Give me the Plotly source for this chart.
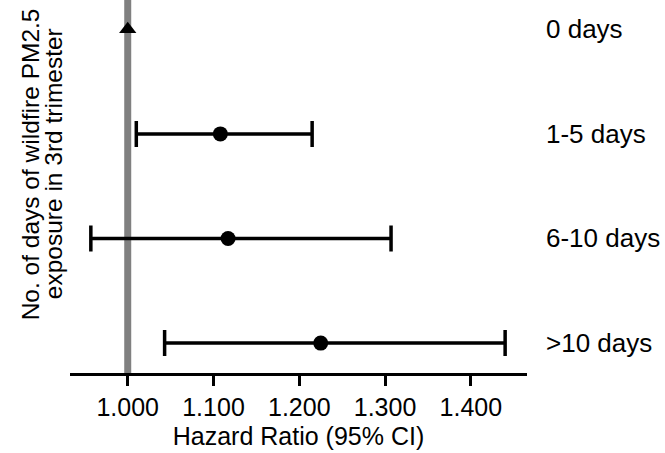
import plotly.graph_objects as go

categories = ["0 days", "1-5 days", "6-10 days", ">10 days"]
hazard_ratio = [1.000, 1.108, 1.117, 1.225]
ci_lower = [None, 1.010, 0.957, 1.043]
ci_upper = [None, 1.215, 1.307, 1.440]
x_ticks = [1.0, 1.1, 1.2, 1.3, 1.4]
x_ticklabels = ["1.000", "1.100", "1.200", "1.300", "1.400"]

FONT = "Arial, Liberation Sans, Helvetica, sans-serif"
rows = list(range(len(categories)))

fig = go.Figure()

# reference line at HR = 1
fig.add_shape(type="line", xref="x", yref="paper", x0=1.0, x1=1.0, y0=0, y1=1,
              line=dict(color="#808080", width=7), layer="below")

# reference category (triangle)
fig.add_trace(go.Scatter(
    x=[hazard_ratio[0]], y=[rows[0]], mode="markers",
    marker=dict(symbol="triangle-up", size=15, color="black"),
    showlegend=False, cliponaxis=False))

# exposed categories with CI
xs = hazard_ratio[1:]
ys = rows[1:]
plus = [u - h for u, h in zip(ci_upper[1:], xs)]
minus = [h - l for h, l in zip(xs, ci_lower[1:])]
fig.add_trace(go.Scatter(
    x=xs, y=ys, mode="markers",
    marker=dict(symbol="circle", size=15, color="black"),
    error_x=dict(type="data", symmetric=False, array=plus, arrayminus=minus,
                 color="black", thickness=3.5, width=13),
    showlegend=False))

# category labels on the right
for r, c in zip(rows, categories):
    fig.add_annotation(x=1.037, xref="paper", y=r, yref="y", text=c,
                       showarrow=False, xanchor="left", yanchor="middle",
                       font=dict(family=FONT, size=26, color="black"))

# y-axis title in two lines
fig.add_annotation(x=-0.087, xref="paper", y=0.56, yref="paper",
                   text="No. of days of wildfire PM2.5", textangle=-90,
                   showarrow=False, xanchor="center", yanchor="middle",
                   font=dict(family=FONT, size=24.5, color="black"))
fig.add_annotation(x=-0.037, xref="paper", y=0.56, yref="paper",
                   text="exposure in 3rd trimester", textangle=-90,
                   showarrow=False, xanchor="center", yanchor="middle",
                   font=dict(family=FONT, size=24.5, color="black"))

fig.update_xaxes(range=[0.9327, 1.4655], tickvals=x_ticks, ticktext=x_ticklabels,
                 showline=True, linecolor="black", linewidth=3,
                 ticks="outside", ticklen=10, tickwidth=3, tickcolor="black",
                 showgrid=False, zeroline=False,
                 tickfont=dict(family=FONT, size=25, color="black"),
                 title=dict(text="Hazard Ratio (95% CI)", standoff=8,
                            font=dict(family=FONT, size=25, color="black")))
fig.update_yaxes(range=[3.286, -0.28], showticklabels=False, showline=False,
                 showgrid=False, zeroline=False, ticks="")

fig.update_layout(width=665, height=453,
                  margin=dict(l=70, r=138, t=0, b=80),
                  paper_bgcolor="white", plot_bgcolor="white")

fig.write_html("out.html")
